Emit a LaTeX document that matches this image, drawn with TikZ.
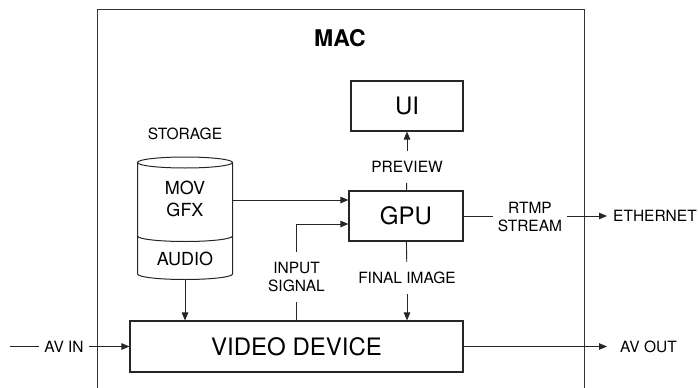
\documentclass[tikz,border=0pt]{standalone}
\usepackage{fontspec}
\setmainfont{TeX Gyre Heros}
\usetikzlibrary{arrows.meta, positioning}
\tikzset{
  mac/frame/.style={rectangle, draw=black!80, line width=1.1pt,
    anchor=north west, inner sep=0pt},
  mac/title/.style={font=\fontsize{23}{27}\selectfont\bfseries},
  mac/box/.style={rectangle, draw=black!85, fill=white, line width=1.1pt,
    inner sep=0pt, font=\fontsize{24}{28}\selectfont},
  mac/store/.style={font=\fontsize{18}{21.5}\selectfont, align=center},
  mac/lbl/.style={font=\fontsize{15.5}{18.6}\selectfont, align=center,
    inner xsep=5pt, inner ysep=10pt},
  mac/line/.style={line width=0.9pt, draw=black!85},
  mac/arr/.style={-{Triangle[length=8pt,width=6.5pt]}, line width=0.9pt,
    draw=black!85}
}
\begin{document}
\begin{tikzpicture}[x=1pt, y=-1pt]
  \useasboundingbox (0,0) rectangle (699,388);
  \clip (0,0) rectangle (699,388);

  % Marco del equipo
  \node[mac/frame, minimum width=487, minimum height=390] (mac) at (97,9) {};
  \node[mac/title] (mactitle) at (340,38) {MAC};

  % Bloques internos
  \node[mac/box, minimum width=112, minimum height=50] (ui)    at (407,106)   {UI};
  \node[mac/box, minimum width=114, minimum height=50] (gpu)   at (406,216)   {GPU};
  \node[mac/box, minimum width=333, minimum height=51] (video) at (296.5,346.5) {VIDEO DEVICE};

  % Almacenamiento (cilindro)
  \draw[mac/line, line width=1pt] (185,162.5) ellipse [x radius=47.5pt, y radius=5.5pt];
  \draw[mac/line, line width=1pt] (137.5,162.5) -- (137.5,274)
        arc[start angle=180, end angle=360, x radius=47.5pt, y radius=5.5pt]
        -- (232.5,162.5);
  \draw[mac/line, line width=1pt] (137.5,236)
        arc[start angle=180, end angle=360, x radius=47.5pt, y radius=5.5pt];
  \node[mac/lbl] (storage) at (185,134) {STORAGE};
  \node[mac/store] (mov)   at (185,199) {MOV\\GFX};
  \node[mac/store] (audio) at (185,259) {AUDIO};
  \coordinate (stor-e) at (232.5,200);
  \coordinate (stor-s) at (185,280);

  % Etiquetas de las conexiones
  \node[mac/lbl] (preview) at (407,167)   {PREVIEW};
  \node[mac/lbl] (insig)   at (296.5,277) {INPUT\\SIGNAL};
  \node[mac/lbl] (final)   at (407,278)   {FINAL IMAGE};
  \node[mac/lbl] (rtmp)    at (530,217)   {RTMP\\STREAM};
  \node[mac/lbl, anchor=west, inner xsep=6pt]  (eth)   at (607,216)   {ETHERNET};
  \node[mac/lbl, anchor=west, inner xsep=13pt] (avout) at (607,346.5) {AV OUT};
  \node[mac/lbl] (avin)    at (64,346.5)  {AV IN};
  \coordinate (avin-w) at (10,346.5);

  % --- Flujo interno ---
  \draw[mac/arr] (stor-e) -- (stor-e -| gpu.west);
  \draw[mac/arr] (stor-s) -- (stor-s |- video.north);
  \draw[mac/line] (video) -- (insig);
  \draw[mac/arr] (insig.north) |- ([yshift=-8pt]gpu.west);
  \draw[mac/line] (gpu) -- (preview);
  \draw[mac/arr] (preview) -- (ui);
  \draw[mac/line] (gpu) -- (final);
  \draw[mac/arr] (final) -- (final |- video.north);

  % --- Entradas y salidas ---
  \draw[mac/line] (avin-w) -- (avin);
  \draw[mac/arr] (avin) -- (video);
  \draw[mac/line] (gpu.east) -- (rtmp.west |- gpu.east);
  \draw[mac/arr] (rtmp.east |- gpu.east) -- (eth);
  \draw[mac/arr] (video) -- (avout);
\end{tikzpicture}
\end{document}
